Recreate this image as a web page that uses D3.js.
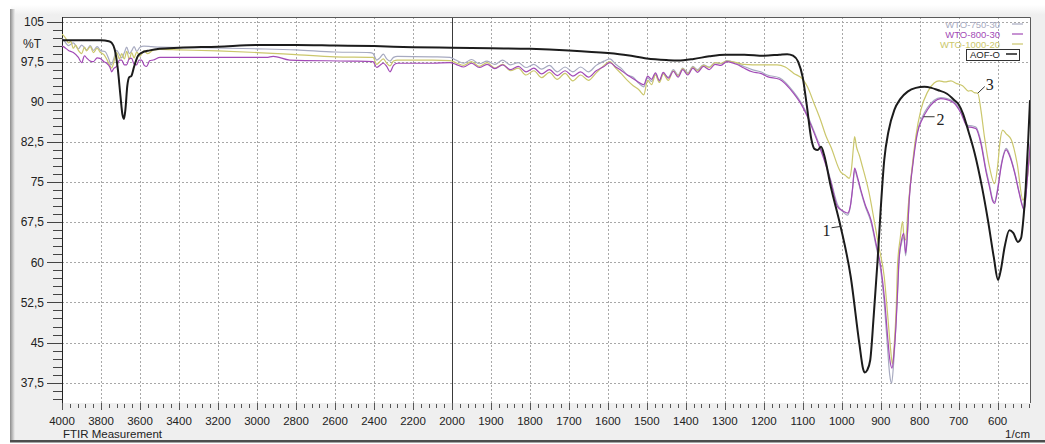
<!DOCTYPE html>
<html>
<head>
<meta charset="utf-8">
<script src="https://d3js.org/d3.v7.min.js"></script>
<style>
  body { margin: 0; background: #fff; }
  text { font-family: Arial, "Liberation Sans", sans-serif; }
  .num { font-family: "Liberation Serif", "Times New Roman", serif; }
</style>
</head>
<body>
<div id="chart"></div>
<script>
////////// data //////////

var aof = [[4000,101.5],[3900,101.5],[3800,101.5],[3760,101.3],[3745,101.0],[3730,99.8],[3715,96.5],[3700,91.0],[3690,87.6],[3682,86.8],[3675,88.5],[3665,93.0],[3655,94.6],[3645,94.8],[3630,96.6],[3610,98.6],[3590,99.2],[3550,99.6],[3500,99.9],[3400,100.1],[3200,100.3],[3000,100.6],[2800,100.6],[2600,100.5],[2400,100.4],[2200,100.2],[2000,100.1],[1900,100.0],[1800,99.9],[1700,99.6],[1600,99.1],[1550,98.7],[1500,98.1],[1450,97.8],[1420,97.7],[1380,98.0],[1340,98.5],[1300,98.8],[1250,98.8],[1200,98.6],[1160,98.8],[1140,98.9],[1125,98.6],[1112,97.5],[1100,94.5],[1090,89.5],[1078,83.0],[1070,81.2],[1062,81.0],[1053,81.6],[1045,80.0],[1028,74.1],[1003,66.7],[977,57.3],[955,44.9],[945,40.0],[941,39.4],[935,39.8],[927,41.7],[918,50.0],[908,60.4],[900,70.0],[891,79.1],[880,84.5],[865,88.5],[850,90.5],[831,91.9],[810,92.6],[788,92.8],[770,92.6],[754,92.2],[730,91.5],[711,90.3],[700,89.5],[689,87.8],[675,84.5],[659,80.4],[640,74.0],[625,67.9],[610,61.0],[599,56.7],[592,58.5],[582,62.9],[570,66.0],[560,65.5],[548,63.8],[540,64.5],[535,67.3],[528,74.0],[522,82.2],[517,90.3]];

var wto800 = [[4000,100.4],[3993,100.3],[3967,99.6],[3942,99.2],[3916,98.3],[3899,97.3],[3885,98.6],[3874,98.2],[3855,97.6],[3839,97.5],[3820,98.2],[3805,98.1],[3785,97.5],[3771,97.2],[3755,96.5],[3745,95.6],[3735,96.2],[3720,96.6],[3705,97.8],[3694,97.8],[3680,96.9],[3668,96.9],[3655,98.1],[3643,98.1],[3630,97.0],[3617,96.9],[3605,97.8],[3592,97.8],[3578,96.8],[3566,96.6],[3550,97.7],[3532,97.8],[3497,98.3],[3378,98.3],[2951,98.3],[2917,98.5],[2832,97.8],[2524,97.6],[2405,97.5],[2386,96.4],[2370,96.8],[2352,97.2],[2335,96.6],[2318,95.6],[2300,96.8],[2280,97.2],[2100,97.2],[2010,97.3],[1990,97.0],[1970,96.5],[1950,97.2],[1930,96.4],[1910,97.0],[1890,96.2],[1870,96.9],[1850,96.0],[1830,96.6],[1810,95.6],[1790,96.3],[1770,95.2],[1750,96.0],[1730,94.9],[1710,95.8],[1690,94.8],[1670,95.6],[1650,94.6],[1630,95.8],[1610,96.6],[1595,97.3],[1580,96.5],[1565,95.8],[1550,95.0],[1535,94.3],[1520,93.6],[1508,93.2],[1498,94.8],[1488,94.2],[1478,95.4],[1468,94.0],[1458,95.5],[1445,94.4],[1432,95.7],[1420,94.6],[1408,96.0],[1395,95.0],[1382,96.3],[1370,95.5],[1355,96.6],[1340,96.0],[1325,97.0],[1310,96.8],[1295,97.5],[1270,97.0],[1251,96.3],[1230,95.6],[1208,95.3],[1191,94.7],[1160,94.2],[1123,91.5],[1100,89.0],[1088,87.2],[1070,84.0],[1045,79.1],[1028,75.0],[1011,70.4],[995,69.5],[985,69.2],[978,70.5],[972,74.0],[967,77.6],[960,76.0],[951,73.5],[940,70.8],[925,67.9],[912,63.5],[900,59.2],[890,53.0],[883,46.7],[877,42.0],[871,40.2],[866,43.0],[861,48.0],[857,54.0],[853,60.4],[847,64.0],[841,65.4],[836,61.7],[831,66.0],[827,71.6],[818,78.0],[806,84.1],[793,86.8],[780,88.5],[763,90.0],[746,90.6],[730,90.4],[711,89.7],[695,88.0],[677,85.3],[666,85.2],[656,85.0],[643,82.2],[630,77.0],[621,74.1],[613,71.5],[608,71.0],[600,73.5],[591,77.9],[578,81.0],[570,80.0],[556,76.6],[545,73.0],[532,69.8],[524,75.5],[516,82.2]];

var wto750 = [[4000,101.8],[3993,101.6],[3967,100.5],[3942,101.0],[3916,99.9],[3899,100.6],[3874,99.7],[3855,100.5],[3839,99.6],[3820,100.3],[3800,99.5],[3780,99.4],[3760,98.0],[3748,96.9],[3735,98.0],[3720,99.6],[3705,98.8],[3694,98.2],[3680,99.2],[3668,100.2],[3655,99.0],[3643,99.5],[3630,100.3],[3617,99.4],[3600,100.2],[3580,100.4],[3540,100.3],[3497,100.2],[3300,100.1],[3000,99.9],[2800,99.7],[2600,99.3],[2420,99.2],[2405,99.0],[2386,97.8],[2370,98.2],[2352,98.9],[2335,98.0],[2318,97.6],[2300,98.3],[2280,98.5],[2100,98.4],[2010,98.3],[1990,97.8],[1970,97.2],[1950,97.9],[1930,97.1],[1910,97.6],[1890,97.0],[1870,97.8],[1850,96.9],[1830,97.3],[1810,96.4],[1790,97.0],[1770,96.1],[1750,96.8],[1730,95.6],[1710,96.5],[1690,95.6],[1670,96.5],[1650,95.6],[1630,96.8],[1610,97.6],[1595,98.0],[1580,97.0],[1565,96.2],[1550,95.0],[1535,94.6],[1520,93.4],[1508,92.8],[1498,94.5],[1488,93.8],[1478,95.2],[1468,93.8],[1458,95.3],[1445,94.6],[1432,96.0],[1420,95.0],[1408,96.3],[1395,95.4],[1382,96.6],[1370,96.0],[1355,96.9],[1340,96.5],[1325,97.3],[1310,97.1],[1295,97.7],[1270,97.2],[1251,96.6],[1230,96.0],[1208,95.6],[1191,95.0],[1160,94.5],[1123,91.8],[1100,89.3],[1088,87.5],[1070,84.3],[1045,79.5],[1028,75.3],[1011,70.8],[995,69.3],[985,68.8],[978,70.4],[972,73.8],[967,77.2],[960,75.7],[951,73.2],[940,70.5],[925,67.5],[912,63.0],[900,58.5],[890,51.5],[883,44.5],[877,39.0],[872,37.4],[867,41.0],[861,48.5],[857,54.5],[853,60.8],[847,63.5],[841,64.8],[836,61.2],[831,65.8],[827,71.8],[818,78.3],[806,84.4],[793,87.2],[780,88.9],[763,90.3],[746,90.8],[730,90.6],[711,89.9],[695,88.3],[677,85.6],[666,85.5],[656,85.3],[643,82.6],[630,77.4],[621,74.5],[613,71.8],[608,71.3],[600,73.8],[591,78.2],[578,81.3],[570,80.3],[556,76.8],[545,73.2],[532,70.0],[524,75.5],[516,82.5]];

var wto1000 = [[4000,102.6],[3993,102.4],[3980,101.8],[3967,101.0],[3955,101.3],[3942,100.0],[3930,100.6],[3916,99.6],[3899,99.0],[3885,100.2],[3874,99.5],[3855,100.3],[3839,99.2],[3820,100.0],[3805,99.3],[3785,98.8],[3771,98.0],[3755,96.8],[3745,96.3],[3735,97.3],[3720,99.2],[3705,98.0],[3694,99.0],[3680,98.0],[3668,99.4],[3655,97.9],[3643,99.2],[3630,98.2],[3617,99.3],[3600,98.5],[3580,99.5],[3560,99.0],[3530,99.7],[3497,99.8],[3400,99.7],[3200,99.5],[3000,99.2],[2800,98.8],[2600,98.4],[2405,98.3],[2386,97.0],[2370,97.5],[2352,98.0],[2335,97.2],[2318,96.7],[2300,97.6],[2280,97.8],[2100,97.8],[2010,97.7],[1990,97.3],[1970,96.8],[1950,97.5],[1930,96.6],[1910,97.3],[1890,96.3],[1870,97.0],[1850,95.8],[1830,96.3],[1810,95.0],[1790,95.8],[1770,94.5],[1750,95.5],[1730,94.2],[1710,95.3],[1690,93.9],[1670,95.0],[1650,94.0],[1630,95.4],[1610,96.8],[1595,97.5],[1580,96.3],[1565,95.2],[1550,94.0],[1535,93.0],[1520,92.2],[1508,91.3],[1498,94.0],[1488,93.2],[1478,95.0],[1468,93.6],[1458,95.2],[1445,94.0],[1432,95.8],[1420,94.8],[1408,96.2],[1395,95.2],[1382,96.5],[1370,95.8],[1355,96.8],[1340,96.4],[1325,97.3],[1310,97.2],[1295,97.6],[1270,97.3],[1251,97.0],[1208,96.9],[1166,96.9],[1145,96.5],[1123,95.3],[1100,94.2],[1088,92.8],[1070,89.5],[1054,86.5],[1040,83.5],[1028,81.6],[1003,76.9],[990,76.2],[981,75.7],[975,77.5],[970,81.5],[967,83.5],[962,81.5],[955,80.0],[947,77.9],[930,73.0],[917,67.9],[905,63.0],[891,57.3],[882,50.0],[875,44.0],[870,41.0],[865,45.0],[860,52.0],[857,59.2],[850,64.5],[844,67.6],[840,64.5],[836,64.2],[830,70.0],[822,76.0],[810,83.5],[797,88.5],[780,91.8],[763,93.5],[750,93.9],[735,93.7],[720,93.9],[705,93.4],[690,93.0],[675,92.0],[668,92.1],[660,91.7],[651,91.6],[643,88.5],[634,83.5],[620,77.5],[608,74.7],[600,78.0],[594,82.5],[587,84.7],[578,84.0],[565,82.9],[550,78.5],[535,71.6],[527,74.0],[516,81.6]];

var seriesNames = ["WTO-750-30", "WTO-800-30", "WTO-1000-20", "AOF-O"];
var seriesData = [wto750, wto800, wto1000, aof];
var seriesColors = ["#a7aac0", "#a24ab6", "#cbc76c", "#1c1c1c"];

var yTicks = [105, 97.5, 90, 82.5, 75, 67.5, 60, 52.5, 45, 37.5];
var xTicksLeft = [4000, 3800, 3600, 3400, 3200, 3000, 2800, 2600, 2400, 2200];
var xTicksRight = [2000, 1900, 1800, 1700, 1600, 1500, 1400, 1300, 1200, 1100, 1000, 900, 800, 700, 600];

// curve labels: wavenumber / %T where the leader touches the curve
var notes = [
  {text: "1", wn: 1003, t: 66.7, lx: -9, ly: 1.3, tx: -10, ty: 9.5, anchor: "end"},
  {text: "2", wn: 790, t: 87.2, lx: 11, ly: 0, tx: 13, ty: 8, anchor: "start"},
  {text: "3", wn: 651, t: 91.6, lx: 7, ly: -6.7, tx: 8, ty: -3, anchor: "start"}
];

////////// setup //////////

var width = 1045, height = 444;
var plotL = 62, plotR = 1030, plotT = 17, plotB = 403;

// the axis changes scale at 2000 1/cm
var x = d3.scaleLinear().domain([4000, 2000, 517]).range([plotL, 452, plotR]);
var y = d3.scaleLinear().domain([37.5, 105]).range([382.7, 21.5]);

var svg = d3.select("#chart").append("svg")
    .attr("width", width)
    .attr("height", height);

var defs = svg.append("defs");
var gTop = defs.append("linearGradient").attr("id", "fadeTop").attr("x1", 0).attr("y1", 0).attr("x2", 0).attr("y2", 1);
gTop.append("stop").attr("offset", 0).attr("stop-color", "#ffffff");
gTop.append("stop").attr("offset", 1).attr("stop-color", "#efefef");
var gLeft = defs.append("linearGradient").attr("id", "fadeLeft").attr("x1", 0).attr("y1", 0).attr("x2", 1).attr("y2", 0);
gLeft.append("stop").attr("offset", 0).attr("stop-color", "#8c8c8c");
gLeft.append("stop").attr("offset", 1).attr("stop-color", "#efefef");
defs.append("clipPath").attr("id", "plotClip")
  .append("rect").attr("x", plotL).attr("y", plotT).attr("width", plotR - plotL).attr("height", plotB - plotT);

////////// frame //////////

svg.append("rect").attr("width", width).attr("height", height).attr("fill", "#fff");
svg.append("rect").attr("x", 11).attr("y", 9).attr("width", width - 11).attr("height", 432).attr("fill", "#efefef");
svg.append("rect").attr("x", 11).attr("y", 5).attr("width", width - 11).attr("height", 10).attr("fill", "url(#fadeTop)");
svg.append("rect").attr("x", 10).attr("y", 9).attr("width", 5).attr("height", 432).attr("fill", "url(#fadeLeft)");
svg.append("rect").attr("x", 10).attr("y", 440).attr("width", width - 10).attr("height", 2.5).attr("fill", "#4d4d4d");

svg.append("rect")
    .attr("x", plotL).attr("y", plotT)
    .attr("width", plotR - plotL).attr("height", plotB - plotT)
    .attr("fill", "#fff");

////////// grid //////////

var grid = svg.append("g").attr("class", "grid")
    .attr("stroke", "#a8a8a8").attr("stroke-dasharray", "2,2").attr("stroke-width", 1);

grid.selectAll(".hgrid").data(yTicks).enter().append("line")
    .attr("x1", plotL).attr("x2", plotR)
    .attr("y1", function(d) { return Math.round(y(d)) + 0.5; })
    .attr("y2", function(d) { return Math.round(y(d)) + 0.5; });

var vGrid = xTicksLeft.concat(xTicksRight).filter(function(d) { return d != 4000 && d != 2000; });
grid.selectAll(".vgrid").data(vGrid).enter().append("line")
    .attr("y1", plotT).attr("y2", plotB)
    .attr("x1", function(d) { return Math.round(x(d)) + 0.5; })
    .attr("x2", function(d) { return Math.round(x(d)) + 0.5; });

// break line at 2000
svg.append("line")
    .attr("x1", Math.round(x(2000)) + 0.5).attr("x2", Math.round(x(2000)) + 0.5)
    .attr("y1", plotT).attr("y2", plotB + 6)
    .attr("stroke", "#3a3a3a");

// frame top / right
svg.append("path")
    .attr("d", "M" + plotL + "," + (plotT + 0.5) + "H" + (plotR + 0.5) + "V" + plotB)
    .attr("fill", "none").attr("stroke", "#5a5a5a");

////////// y axis //////////

var fmt = function(d) { return String(d).replace(".", ","); };
var yMinor = d3.range(34.5, 105.1, 1.5);
var yAxis = svg.append("g").attr("class", "y-axis");

yAxis.append("line")
    .attr("x1", plotL + 0.5).attr("x2", plotL + 0.5)
    .attr("y1", plotT).attr("y2", plotB + 3)
    .attr("stroke", "#222");

yAxis.selectAll(".tick").data(yMinor).enter().append("line")
    .attr("x1", function(d) { return yTicks.indexOf(d) >= 0 ? plotL - 15 : plotL - 9; })
    .attr("x2", plotL)
    .attr("y1", function(d) { return Math.round(y(d)) + 0.5; })
    .attr("y2", function(d) { return Math.round(y(d)) + 0.5; })
    .attr("stroke", "#444");

yAxis.selectAll(".label").data(yTicks).enter().append("text")
    .attr("x", 44)
    .attr("y", function(d) { return y(d); })
    .attr("dy", "0.36em")
    .attr("text-anchor", "end")
    .attr("font-size", "12px")
    .attr("fill", "#222")
    .text(fmt);

yAxis.append("text")
    .attr("x", 41).attr("y", 48)
    .attr("text-anchor", "end")
    .attr("font-size", "12px")
    .attr("fill", "#222")
    .text("%T");

////////// x axis //////////

var xMinor = d3.range(4000, 2000, -40).concat(d3.range(2000, 516, -20));
var xMajor = xTicksLeft.concat(xTicksRight);
var xAxis = svg.append("g").attr("class", "x-axis");

xAxis.selectAll(".tick").data(xMinor).enter().append("line")
    .attr("x1", function(d) { return Math.round(x(d)) + 0.5; })
    .attr("x2", function(d) { return Math.round(x(d)) + 0.5; })
    .attr("y1", function(d) { return xMajor.indexOf(d) >= 0 ? plotB : plotB + 1; })
    .attr("y2", function(d) { return xMajor.indexOf(d) >= 0 ? plotB + 7 : plotB + 5; })
    .attr("stroke", "#555");

xAxis.selectAll(".label").data(xMajor).enter().append("text")
    .attr("x", function(d) { return x(d); })
    .attr("y", 424.5)
    .attr("text-anchor", "middle")
    .attr("font-size", "11.5px")
    .attr("fill", "#222")
    .text(function(d) { return d; });

xAxis.append("text")
    .attr("x", 63).attr("y", 438)
    .attr("font-size", "11.5px").attr("fill", "#222")
    .text("FTIR Measurement");

xAxis.append("text")
    .attr("x", plotR).attr("y", 438)
    .attr("text-anchor", "end")
    .attr("font-size", "11.5px").attr("fill", "#222")
    .text("1/cm");

////////// spectra //////////

var line = d3.line()
    .x(function(d) { return x(d[0]); })
    .y(function(d) { return y(d[1]); })
    .curve(d3.curveMonotoneX);

var plot = svg.append("g").attr("clip-path", "url(#plotClip)");
var order = [0, 2, 1, 3];
order.forEach(function(i) {
  plot.append("path")
      .datum(seriesData[i])
      .attr("fill", "none")
      .attr("stroke", seriesColors[i])
      .attr("stroke-width", i == 3 ? 2 : 1.2)
      .attr("stroke-linejoin", "round")
      .attr("d", line);
});

////////// curve labels //////////

notes.forEach(function(n) {
  var px = x(n.wn), py = y(n.t);
  svg.append("line")
      .attr("x1", px).attr("y1", py)
      .attr("x2", px + n.lx).attr("y2", py + n.ly)
      .attr("stroke", "#333").attr("stroke-width", 1);
  svg.append("text")
      .attr("class", "num")
      .attr("x", px + n.tx).attr("y", py + n.ty)
      .attr("text-anchor", n.anchor)
      .attr("font-size", "16px")
      .attr("fill", "#222")
      .text(n.text);
});

////////// legend //////////

var legend = svg.append("g").attr("class", "legend");

// AOF-O entry sits in a framed box
legend.append("rect")
    .attr("x", 966.5).attr("y", 49.5)
    .attr("width", 53).attr("height", 11)
    .attr("fill", "#fff").attr("stroke", "#333");

seriesNames.forEach(function(name, i) {
  var by = 27.5 + i * 10;
  legend.append("text")
      .attr("x", 1000).attr("y", by)
      .attr("text-anchor", "end")
      .attr("font-size", "9.5px")
      .attr("fill", i == 3 ? "#222" : seriesColors[i])
      .text(name);
  legend.append("line")
      .attr("x1", i == 3 ? 1006 : 1012).attr("x2", i == 3 ? 1017 : 1023)
      .attr("y1", by - 3.5).attr("y2", by - 3.5)
      .attr("stroke", seriesColors[i])
      .attr("stroke-width", i == 3 ? 1.5 : 1.2);
});
</script>
</body>
</html>
